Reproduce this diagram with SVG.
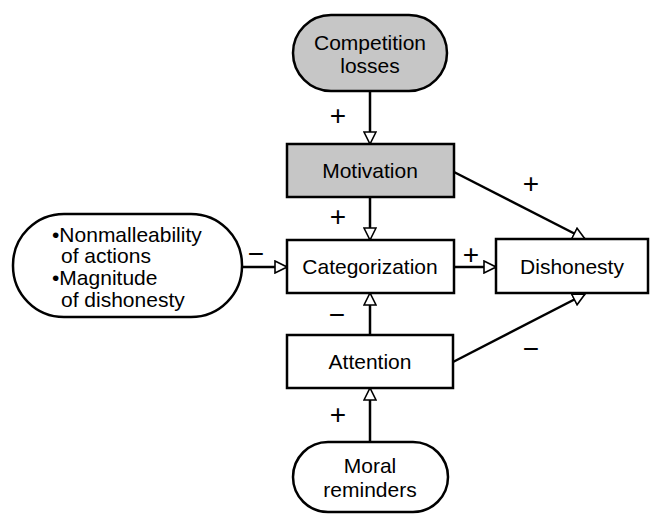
<svg xmlns="http://www.w3.org/2000/svg" width="654" height="514" viewBox="0 0 654 514">
<defs>
<marker id="tri" viewBox="0 0 14 14" refX="13" refY="7" markerWidth="14" markerHeight="14" markerUnits="userSpaceOnUse" orient="auto">
<path d="M1,1 L13,7 L1,13 Z" fill="#fff" stroke="#000" stroke-width="1.6"/>
</marker>
<style>
.box{stroke:#000;stroke-width:2.5}
.w{fill:#fff}
.g{fill:#c6c6c6}
text{font-family:"Liberation Sans",Arial,sans-serif;font-size:21px;fill:#000}
.c{text-anchor:middle}
.sign{font-size:28px;text-anchor:middle}
.e{stroke:#000;stroke-width:2.5;fill:none;marker-end:url(#tri)}
</style>
</defs>
<rect width="654" height="514" fill="#fff"/>
<g id="edges">
<line class="e" x1="370" y1="91" x2="370" y2="144"/>
<line class="e" x1="370" y1="197" x2="370" y2="240"/>
<line class="e" x1="242" y1="267" x2="287" y2="267"/>
<line class="e" x1="454" y1="267" x2="496" y2="267"/>
<line class="e" x1="370" y1="335" x2="370" y2="293"/>
<line class="e" x1="370" y1="442" x2="370" y2="388"/>
<line class="e" x1="454" y1="172" x2="585" y2="239"/>
<line class="e" x1="453" y1="362" x2="585" y2="294"/>
<text class="sign" x="338" y="125">+</text>
<text class="sign" x="338" y="226">+</text>
<text class="sign" x="256" y="263">−</text>
<text class="sign" x="471" y="264">+</text>
<text class="sign" x="531" y="193">+</text>
<text class="sign" x="337" y="324">−</text>
<text class="sign" x="531" y="358">−</text>
<text class="sign" x="338" y="424">+</text>
</g>
<g id="competition">
<rect class="box g" x="293" y="15" width="154" height="76" rx="38" ry="38"/>
<text class="c" x="370" y="50">Competition</text>
<text class="c" x="370" y="73">losses</text>
</g>
<g id="motivation">
<rect class="box g" x="287" y="144" width="167" height="53"/>
<text class="c" x="370" y="178">Motivation</text>
</g>
<g id="nonmalleability">
<rect class="box w" x="13" y="214" width="229" height="103" rx="51" ry="51"/>
<text x="52" y="242">•Nonmalleability</text>
<text x="61" y="263">of actions</text>
<text x="52" y="285">•Magnitude</text>
<text x="61" y="307">of dishonesty</text>
</g>
<g id="categorization">
<rect class="box w" x="287" y="240" width="167" height="53"/>
<text class="c" x="370" y="274">Categorization</text>
</g>
<g id="dishonesty">
<rect class="box w" x="496" y="239" width="152" height="54"/>
<text class="c" x="572" y="274">Dishonesty</text>
</g>
<g id="attention">
<rect class="box w" x="287" y="335" width="166" height="53"/>
<text class="c" x="370" y="369">Attention</text>
</g>
<g id="moral">
<rect class="box w" x="293" y="442" width="155" height="70" rx="35" ry="35"/>
<text class="c" x="370" y="473">Moral</text>
<text class="c" x="370" y="497">reminders</text>
</g>
</svg>
